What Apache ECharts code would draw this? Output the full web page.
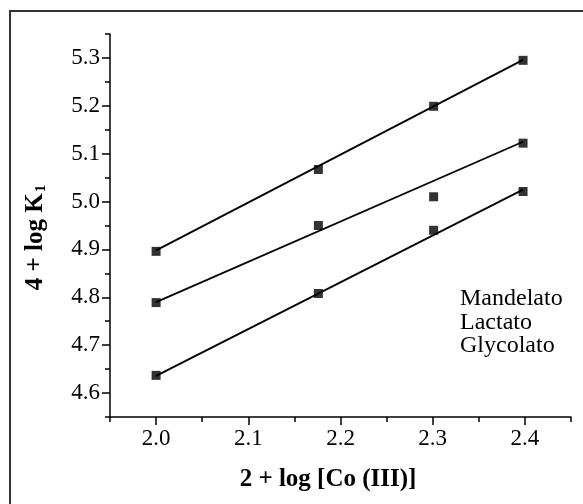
<!DOCTYPE html>
<html>
<head>
<meta charset="utf-8">
<script src="https://cdn.jsdelivr.net/npm/echarts@6/dist/echarts.min.js"></script>
<style>
html,body{margin:0;padding:0;background:#fff;}
#c{width:583px;height:504px;}
</style>
</head>
<body>
<div id="c"></div>
<script>
// ---- data ----
var xValues = [2.0, 2.176, 2.301, 2.398];
var mandelato = [4.896, 5.067, 5.199, 5.295];
var lactato = [4.789, 4.950, 5.010, 5.122];
var glycolato = [4.637, 4.808, 4.940, 5.021];
var fitX = [2.0, 2.398];
var mandelatoFit = [4.898, 5.296];
var lactatoFit = [4.790, 5.125];
var glycolatoFit = [4.636, 5.025];
var xTickLabels = [2.0, 2.1, 2.2, 2.3, 2.4];
var yTickLabels = [4.6, 4.7, 4.8, 4.9, 5.0, 5.1, 5.2, 5.3];
var seriesNames = ['Mandelato', 'Lactato', 'Glycolato'];

var FONT = "'Liberation Serif', 'Times New Roman', serif";

function pairs(xs, ys) { return xs.map(function (x, i) { return [x, ys[i]]; }); }

var chart = echarts.init(document.getElementById('c'), null, {renderer: 'canvas'});

var scatterStyle = {type: 'scatter', symbol: 'rect', symbolSize: 9,
  itemStyle: {color: '#000'}, z: 5, xAxisIndex: 0, yAxisIndex: 0};
var lineStyle = {type: 'line', showSymbol: false, symbol: 'none',
  lineStyle: {color: '#000', width: 1.8}, z: 4, xAxisIndex: 0, yAxisIndex: 0, silent: true};

var allSeries = [];
[[mandelato, mandelatoFit], [lactato, lactatoFit], [glycolato, glycolatoFit]].forEach(function (p, i) {
  allSeries.push(Object.assign({}, lineStyle, {name: seriesNames[i] + ' fit', data: pairs(fitX, p[1])}));
  allSeries.push(Object.assign({}, scatterStyle, {name: seriesNames[i], data: pairs(xValues, p[0])}));
});

var graphics = [{
  type: 'rect', shape: {x: 10, y: 11, width: 640, height: 560},
  style: {fill: 'none', stroke: '#333', lineWidth: 2}, silent: true
}];
var legendY = [299, 322.5, 346];
seriesNames.forEach(function (n, i) {
  graphics.push({type: 'text', x: 460, y: legendY[i],
    style: {text: n, font: '24px ' + FONT, fill: '#000', textVerticalAlign: 'middle', textAlign: 'left'}});
});

chart.setOption({
  animation: false,
  backgroundColor: '#fff',
  grid: {left: 110, right: 12, top: 34, bottom: 87, containLabel: false},
  xAxis: [{
    type: 'value', min: 1.95, max: 2.45, position: 'bottom',
    name: '2 + log [Co (III)]', nameLocation: 'middle', nameGap: 50,
    nameTextStyle: {fontFamily: FONT, fontWeight: 'bold', fontSize: 25, color: '#000', padding: [0, 25, 0, 0]},
    axisLine: {show: true, onZero: false, lineStyle: {color: '#000', width: 1.5}},
    axisTick: {show: true, inside: false, length: 8, customValues: xTickLabels, lineStyle: {color: '#000', width: 1.5}},
    axisLabel: {show: true, customValues: xTickLabels, margin: 10, fontFamily: FONT, fontSize: 23, color: '#000',
      formatter: function (v) { return v.toFixed(1); }},
    splitLine: {show: false}
  }, {
    type: 'value', min: 1.95, max: 2.45, interval: 0.05, position: 'bottom',
    axisLine: {show: false, onZero: false},
    axisTick: {show: true, inside: false, length: 5, lineStyle: {color: '#000', width: 1.5}},
    axisLabel: {show: false}, splitLine: {show: false}
  }],
  yAxis: [{
    type: 'value', min: 4.55, max: 5.35, position: 'left',
    name: '4 + log K{sub|1}', nameLocation: 'middle', nameGap: 61,
    nameTextStyle: {fontFamily: FONT, fontWeight: 'bold', fontSize: 25, color: '#000', padding: [0, 24, 0, 0],
      rich: {sub: {fontFamily: FONT, fontWeight: 'bold', fontSize: 15, verticalAlign: 'bottom', padding: [12, 0, 0, 1]}}},
    axisLine: {show: true, onZero: false, lineStyle: {color: '#000', width: 1.5}},
    axisTick: {show: true, inside: false, length: 8, customValues: yTickLabels, lineStyle: {color: '#000', width: 1.5}},
    axisLabel: {show: true, customValues: yTickLabels, margin: 10, fontFamily: FONT, fontSize: 23, color: '#000',
      formatter: function (v) { return v.toFixed(1); }},
    splitLine: {show: false}
  }, {
    type: 'value', min: 4.55, max: 5.35, interval: 0.05, position: 'left',
    axisLine: {show: false, onZero: false},
    axisTick: {show: true, inside: false, length: 5, lineStyle: {color: '#000', width: 1.5}},
    axisLabel: {show: false}, splitLine: {show: false}
  }],
  graphic: graphics,
  series: allSeries
});
</script>
</body>
</html>
